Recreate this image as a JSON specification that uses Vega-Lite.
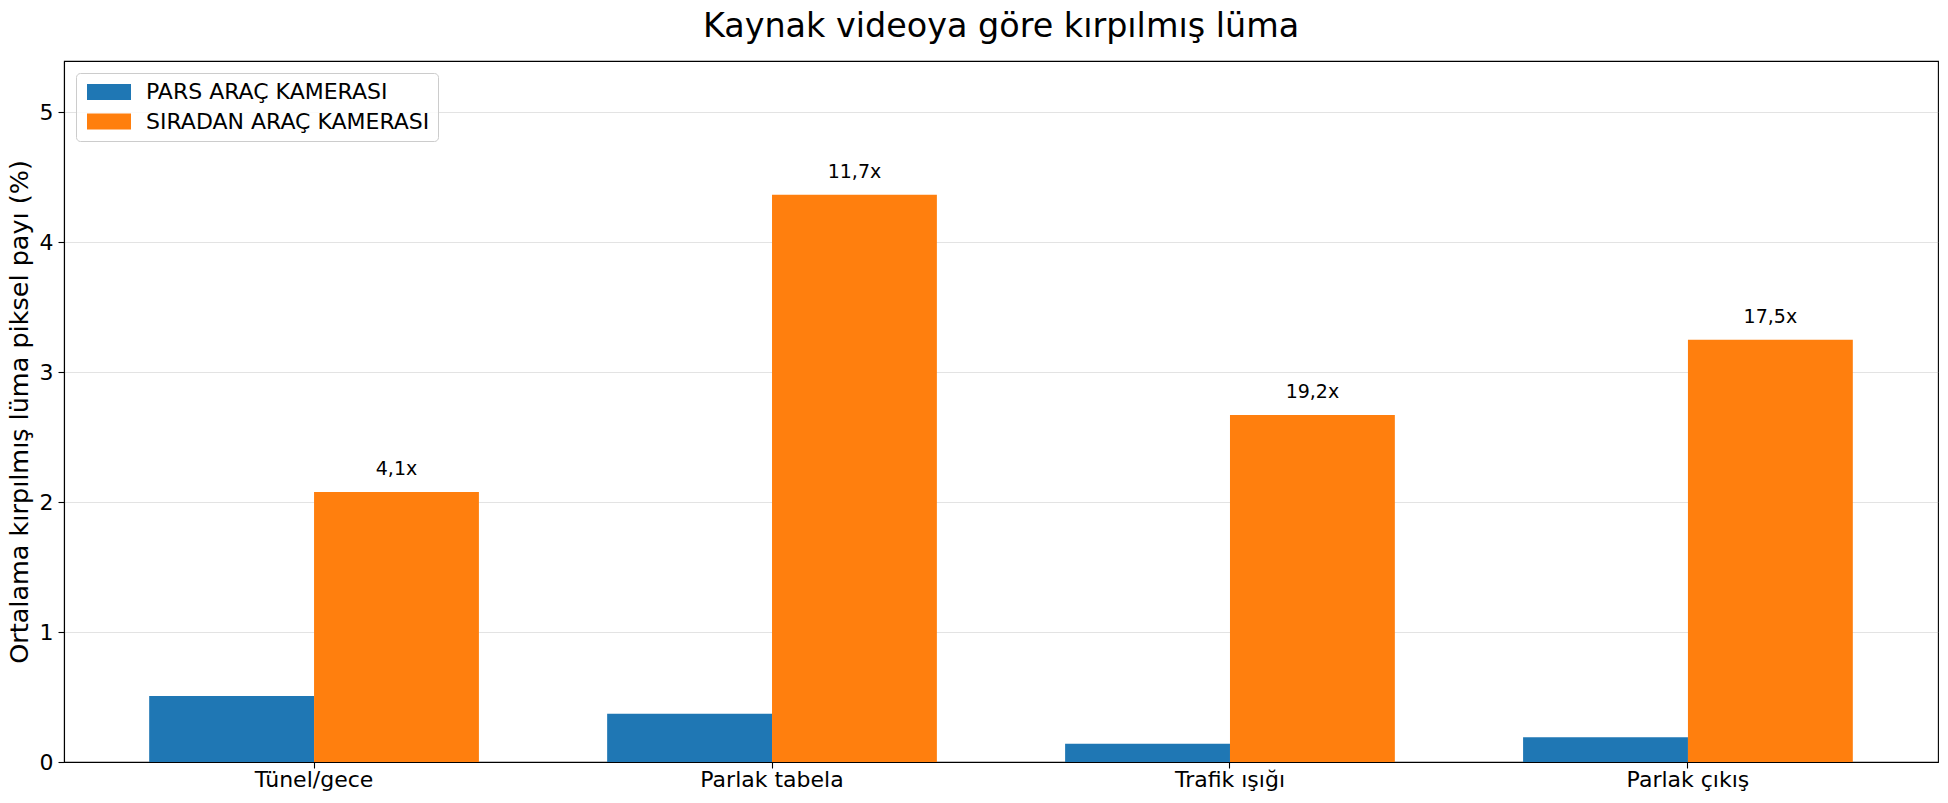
{
  "$schema": "https://vega.github.io/schema/vega-lite/v6.json",
  "width": 1874,
  "height": 701,
  "autosize": {"type": "none"},
  "padding": {"left": 64, "top": 61, "right": 10, "bottom": 41},
  "background": "white",
  "title": {
    "text": "Kaynak videoya göre kırpılmış lüma",
    "font": "DejaVu Sans",
    "fontSize": 33.4,
    "fontWeight": "normal",
    "color": "black",
    "baseline": "alphabetic",
    "offset": 24,
    "dy": 33,
    "anchor": "middle"
  },
  "config": {
    "font": "DejaVu Sans",
    "view": {"stroke": "black", "strokeWidth": 1.1},
    "axis": {
      "domainColor": "black",
      "domainWidth": 1.1,
      "tickColor": "black",
      "tickSize": 6,
      "tickWidth": 1.1,
      "labelColor": "black",
      "labelFont": "DejaVu Sans",
      "labelFontSize": 22,
      "titleFont": "DejaVu Sans",
      "titleColor": "black",
      "titleFontWeight": "normal",
      "zindex": 1
    },
    "legend": {
      "orient": "top-left",
      "offset": 12,
      "padding": 8,
      "fillColor": "rgba(255,255,255,0.8)",
      "strokeColor": "#cccccc",
      "cornerRadius": 4,
      "labelFont": "DejaVu Sans",
      "labelFontSize": 22,
      "labelColor": "black",
      "labelLimit": 0,
      "symbolType": "M-2.75,-1H2.75V1H-2.75Z",
      "symbolSize": 256,
      "symbolOffset": 14,
      "symbolStrokeWidth": 0,
      "symbolOpacity": 1,
      "labelOffset": 26,
      "rowPadding": 7.5
    }
  },
  "data": {
    "values": [
      {"scene": "Tünel/gece", "camera": "PARS ARAÇ KAMERASI", "clip": 0.508, "ratio": null},
      {"scene": "Tünel/gece", "camera": "SIRADAN ARAÇ KAMERASI", "clip": 2.078, "ratio": "4,1x"},
      {"scene": "Parlak tabela", "camera": "PARS ARAÇ KAMERASI", "clip": 0.372, "ratio": null},
      {"scene": "Parlak tabela", "camera": "SIRADAN ARAÇ KAMERASI", "clip": 4.365, "ratio": "11,7x"},
      {"scene": "Trafik ışığı", "camera": "PARS ARAÇ KAMERASI", "clip": 0.141, "ratio": null},
      {"scene": "Trafik ışığı", "camera": "SIRADAN ARAÇ KAMERASI", "clip": 2.671, "ratio": "19,2x"},
      {"scene": "Parlak çıkış", "camera": "PARS ARAÇ KAMERASI", "clip": 0.19, "ratio": null},
      {"scene": "Parlak çıkış", "camera": "SIRADAN ARAÇ KAMERASI", "clip": 3.249, "ratio": "17,5x"}
    ]
  },
  "encoding": {
    "x": {
      "field": "scene",
      "type": "nominal",
      "sort": ["Tünel/gece", "Parlak tabela", "Trafik ışığı", "Parlak çıkış"],
      "scale": {"paddingInner": 0.28, "paddingOuter": 0.186},
      "axis": {"title": null, "labelAngle": 0, "labelPadding": 1.5}
    },
    "xOffset": {
      "field": "camera",
      "type": "nominal",
      "sort": ["PARS ARAÇ KAMERASI", "SIRADAN ARAÇ KAMERASI"],
      "scale": {"domain": ["PARS ARAÇ KAMERASI", "SIRADAN ARAÇ KAMERASI"], "paddingInner": 0, "paddingOuter": 0}
    },
    "y": {
      "field": "clip",
      "type": "quantitative",
      "scale": {"domain": [0, 5.394], "nice": false},
      "axis": {
        "title": "Ortalama kırpılmış lüma piksel payı (%)",
        "titleFontSize": 25.5,
        "titlePadding": 7,
        "labelPadding": 5,
        "values": [0, 1, 2, 3, 4, 5],
        "grid": true,
        "gridColor": "#b0b0b0",
        "gridOpacity": 0.35,
        "gridWidth": 1.1
      }
    }
  },
  "layer": [
    {
      "mark": {"type": "bar"},
      "encoding": {
        "color": {
          "field": "camera",
          "type": "nominal",
          "scale": {
            "domain": ["PARS ARAÇ KAMERASI", "SIRADAN ARAÇ KAMERASI"],
            "range": ["#1f77b4", "#ff7f0e"]
          },
          "legend": {"title": null}
        }
      }
    },
    {
      "transform": [{"filter": "datum.ratio != null"}],
      "mark": {
        "type": "text",
        "fontSize": 19,
        "baseline": "alphabetic",
        "align": "center",
        "dy": -17,
        "color": "black"
      },
      "encoding": {
        "text": {"field": "ratio", "type": "nominal"}
      }
    }
  ]
}
